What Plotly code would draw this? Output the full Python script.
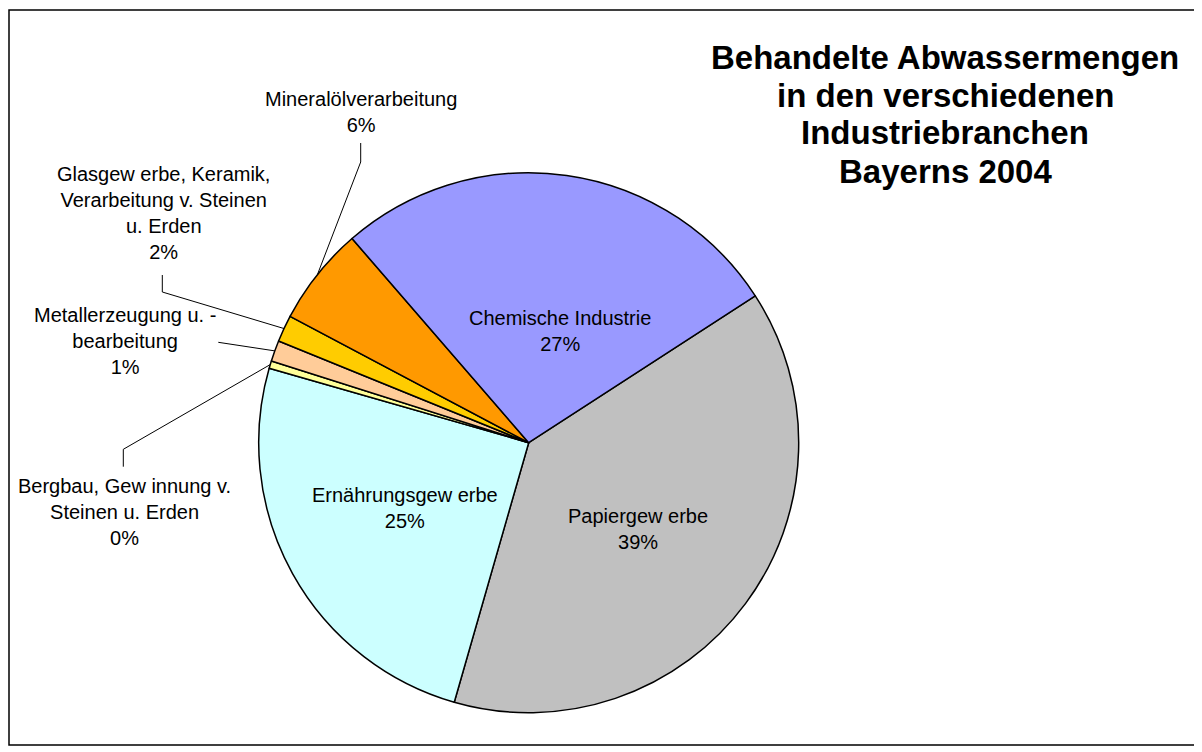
import math

import plotly.graph_objects as go

# Wastewater volumes by industry branch, Bavaria 2004 (share in %)
branches = [
    "Papiergew erbe",
    "Ernährungsgew erbe",
    "Bergbau, Gew innung v.<br>Steinen u. Erden",
    "Metallerzeugung u. -<br>bearbeitung",
    "Glasgew erbe, Keramik,<br>Verarbeitung v. Steinen<br>u. Erden",
    "Mineralölverarbeitung",
    "Chemische Industrie",
]
shares = [38.6, 25.0, 0.45, 1.25, 1.6, 5.9, 27.2]
colors = ["#C0C0C0", "#CCFFFF", "#FFFF99", "#FFCC99", "#FFCC00", "#FF9900", "#9999FF"]

title_lines = [
    "Behandelte Abwassermengen",
    "in den verschiedenen",
    "Industriebranchen",
    "Bayerns 2004",
]

# the page body has an 8px margin, so the figure is a bit smaller than the window
OFF = 8
W, H = 1202 - OFF, 752 - OFF
FONT = "Arial, Liberation Sans, sans-serif"

# pie geometry in window pixels
CX, CY, R = 528.7, 442.7, 270
ROTATION = 57.05

# label centres (px) and leader-line anchor points near the labels (px)
label_pos = [
    (638, 529), (405, 508), (124, 512), (125, 341), (163, 213), (361, 112), (560, 331),
]
leader_pts = {
    2: [(123.3, 466.7), (123.3, 449.3)],
    3: [(218.3, 342.3)],
    4: [(162.3, 275), (162.3, 292)],
    5: [(360.7, 143), (360.7, 162)],
}


def px(x):
    return (x - OFF) / W


def py(y):
    return 1 - (y - OFF) / H


fig = go.Figure(
    go.Pie(
        labels=branches,
        values=shares,
        sort=False,
        direction="clockwise",
        rotation=ROTATION,
        marker={"colors": colors, "line": {"color": "black", "width": 1.5}},
        textinfo="none",
        hoverinfo="label+percent",
        showlegend=False,
        domain={"x": [px(CX - R), px(CX + R)], "y": [py(CY + R), py(CY - R)]},
    )
)

total = sum(shares)
annotations = []
shapes = []
cum = 0.0
for i, (name, v) in enumerate(zip(branches, shares)):
    mid = math.radians(ROTATION + 360 * (cum + v / 2) / total)
    cum += v
    pct = round(v / total * 100)
    lx, ly = label_pos[i]
    annotations.append(
        dict(
            x=px(lx), y=py(ly), xref="paper", yref="paper",
            text=f"{name}<br>{pct}%", showarrow=False,
            font={"family": FONT, "size": 20, "color": "black"},
            xanchor="center", yanchor="middle", align="center",
        )
    )
    if i in leader_pts:
        pts = leader_pts[i] + [(CX + R * math.sin(mid), CY - R * math.cos(mid))]
        path = "M " + " L ".join(f"{px(x)},{py(y)}" for x, y in pts)
        shapes.append(
            dict(type="path", path=path, xref="paper", yref="paper",
                 line={"color": "black", "width": 1})
        )

for k, line in enumerate(title_lines):
    annotations.append(
        dict(
            x=px(945), y=py(57 + 38 * k), xref="paper", yref="paper",
            text=line, showarrow=False,
            font={"family": FONT, "size": 33, "color": "black", "weight": "bold"},
            xanchor="center", yanchor="middle",
        )
    )

# chart frame
shapes.append(
    dict(type="rect", x0=px(9), x1=px(1197), y0=py(745), y1=py(10),
         xref="paper", yref="paper", line={"color": "black", "width": 1.5})
)

fig.update_layout(
    width=W,
    height=H,
    margin={"l": 0, "r": 0, "t": 0, "b": 0},
    paper_bgcolor="white",
    plot_bgcolor="white",
    annotations=annotations,
    shapes=shapes,
)

fig.write_html("out.html")
